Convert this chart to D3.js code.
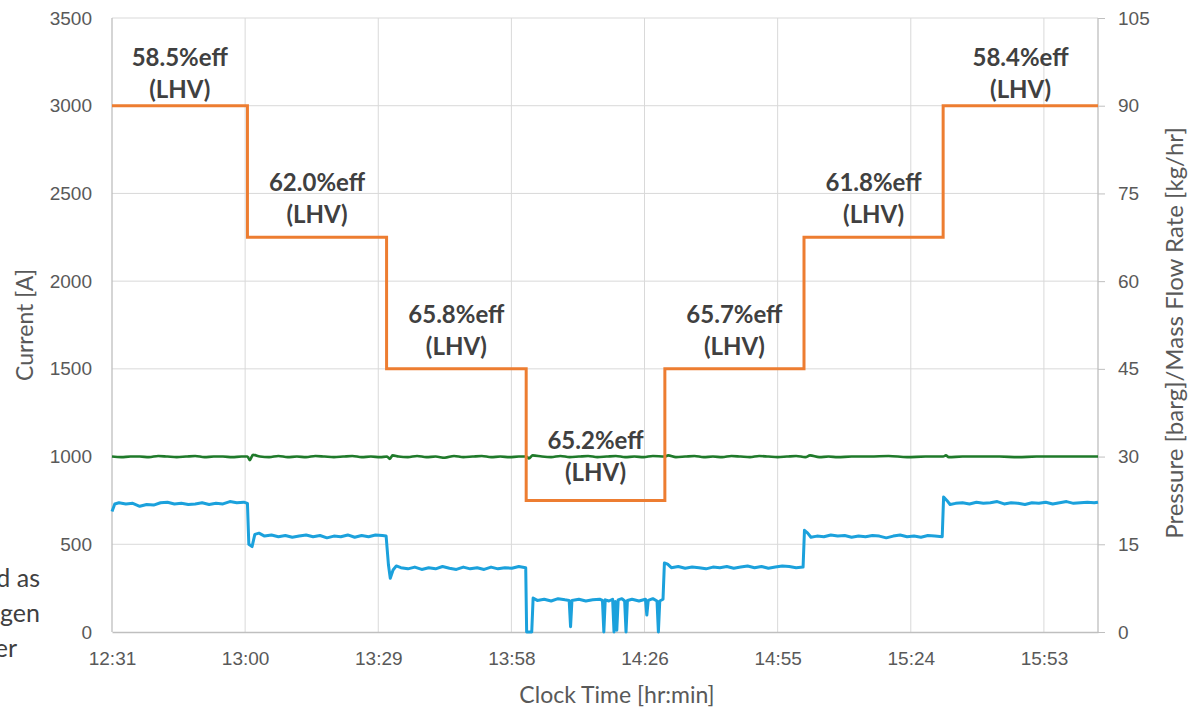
<!DOCTYPE html>
<html>
<head>
<meta charset="utf-8">
<script src="https://cdn.jsdelivr.net/npm/d3@7"></script>
<style>
  body { margin: 0; background: #fff; }
  svg { display: block; }
</style>
</head>
<body>
<div id="chart"></div>
<script>
// ---- data (minutes after 12:31) ----
var xTickLabels = ["12:31", "13:00", "13:29", "13:58", "14:26", "14:55", "15:24", "15:53"];
var xTickStep = 28.8;   // excel major unit 0.02 day
var timeEnd = 213.3;

var leftTicks = [0, 500, 1000, 1500, 2000, 2500, 3000, 3500];
var rightTicks = [0, 15, 30, 45, 60, 75, 90, 105];

// current set points (step after)
var stepTime = [0, 29.3, 59.4, 89.6, 119.6, 149.7, 179.8, 213.3];
var currentA = [3000, 2250, 1500, 750, 1500, 2250, 3000, 3000];

var effLabels = ["58.5%eff", "62.0%eff", "65.8%eff", "65.2%eff", "65.7%eff", "61.8%eff", "58.4%eff"];

// hydrogen mass flow [kg/hr]
var flowTime = [0, 0.6, 1.5, 3, 4.5, 6, 7.5, 9, 10.5, 12, 13.5, 15, 16.5, 18, 19.5, 21, 22.5, 24, 25.5, 27, 28.5, 29.3,
  29.6, 30.3, 30.9, 31.8, 33, 34.5, 36, 37.5, 39, 40.5, 42, 43.5, 45, 46.5, 48, 49.5, 51, 52.5, 54, 55.5, 57, 58.5, 59.3,
  59.8, 60.2, 60.8, 61.5, 62.5, 64, 65.5, 67, 68.5, 70, 71.5, 73, 74.5, 76, 77.5, 79, 80.5, 82, 83.5, 85, 86.5, 88, 89.5,
  89.7, 90.8, 91.1, 92, 93.5, 95, 96.5, 98, 98.9, 99.2, 99.5, 101, 102.5, 104, 105.5, 106.1, 106.4, 106.7, 107.5, 108.3,
  108.6, 108.9, 109.2, 109.5, 110.3, 110.9, 111.2, 111.5, 112.5, 114, 115.4, 115.7, 116, 117, 117.9, 118.2, 118.5, 119.2,
  119.5, 120.2, 121, 122.5, 124, 125.5, 127, 128.5, 130, 131.5, 133, 134.5, 136, 137.5, 139, 140.5, 142, 143.5, 145, 146.5, 148, 149.5,
  149.8, 150.5, 151.2, 152.5, 154, 155.5, 157, 158.5, 160, 161.5, 163, 164.5, 166, 167.5, 169, 170.5, 172, 173.5, 175, 176.5, 178, 179.6,
  179.9, 180.6, 181.3, 182.5, 184, 185.5, 187, 188.5, 190, 191.5, 193, 194.5, 196, 197.5, 199, 200.5, 202, 203.5, 205, 206.5, 208, 209.5, 211, 212.5, 213.3];
var flowRate = [20.6, 21.9, 22.1, 21.9, 22.0, 21.5, 21.8, 21.7, 22.1, 22.2, 21.9, 22.0, 21.8, 21.9, 22.1, 21.8, 22.0, 21.9, 22.3, 22.1, 22.2, 22.0,
  15.0, 14.6, 16.7, 16.9, 16.4, 16.6, 16.3, 16.5, 16.2, 16.4, 16.6, 16.3, 16.5, 16.1, 16.4, 16.3, 16.6, 16.2, 16.5, 16.3, 16.6, 16.5, 16.4,
  11.5, 9.2, 10.6, 11.3, 11.0, 10.8, 11.1, 10.7, 11.0, 10.8, 11.2, 10.9, 10.7, 11.1, 10.8, 11.0, 10.7, 11.1, 10.8, 11.0, 10.9, 11.2, 11.0,
  0, 0, 5.8, 5.4, 5.6, 5.3, 5.7, 5.5, 5.4, 0.9, 5.4, 5.6, 5.3, 5.5, 5.6, 5.4, 0, 5.5, 5.3, 5.6,
  0, 5.2, 0.3, 5.5, 5.7, 5.3, 0, 5.4, 5.6, 5.3, 5.6, 2.9, 5.4, 5.7, 5.3, 0, 5.3, 5.6,
  11.8, 11.6, 11.0, 11.2, 10.9, 11.1, 11.0, 10.8, 11.1, 11.0, 11.2, 10.9, 11.1, 11.3, 11.0, 11.2, 10.9, 11.1, 11.3, 11.2, 11.0, 11.1,
  17.4, 16.9, 16.2, 16.4, 16.3, 16.6, 16.4, 16.5, 16.2, 16.4, 16.3, 16.5, 16.4, 16.1, 16.4, 16.6, 16.3, 16.4, 16.2, 16.5, 16.4, 16.3,
  23.1, 22.5, 21.8, 22.0, 22.1, 21.9, 22.2, 22.0, 22.1, 22.3, 21.9, 22.1, 22.0, 21.8, 22.1, 22.0, 22.2, 21.9, 22.1, 22.3, 22.0, 22.1, 22.2, 22.1, 22.2];

// outlet pressure [barg]
var pressTime = [0, 2, 4, 6, 8, 10, 12, 14, 16, 18, 20, 22, 24, 26, 28, 29.3, 29.8, 30.5, 32, 34, 36, 38, 40, 42, 44, 46, 48, 50,
  52, 54, 56, 58, 59.5, 60.1, 60.7, 62, 64, 66, 68, 70, 72, 74, 76, 78, 80, 82, 84, 86, 88, 89.6, 90.2, 91, 93, 95, 97, 99,
  101, 103, 105, 107, 109, 111, 113, 115, 117, 119.6, 120.3, 122, 124, 126, 128, 130, 132, 134, 136, 138, 140, 142, 144, 146,
  148, 150, 151, 153, 155, 157, 160, 164, 168, 172, 176, 179.8, 180.4, 181, 184, 188, 192, 196, 200, 204, 208, 213.3];
var pressure = [30.0, 29.9, 30.0, 30.0, 29.9, 30.1, 30.0, 29.9, 30.0, 30.1, 29.9, 30.0, 30.0, 29.9, 30.0, 30.0, 29.4, 30.3, 30.0, 29.9, 30.1, 29.9, 30.0, 29.9, 30.1, 30.0, 29.9, 30.0,
  30.1, 29.9, 30.0, 29.9, 30.0, 29.6, 30.2, 30.0, 29.9, 30.1, 29.9, 30.0, 29.8, 30.1, 29.9, 30.0, 30.1, 29.9, 30.0, 29.9, 30.0, 30.0, 29.7, 30.2, 30.0, 29.9, 30.1, 29.9,
  30.0, 30.1, 29.9, 30.0, 30.1, 29.9, 30.0, 29.9, 30.1, 30.0, 30.2, 29.9, 30.0, 30.1, 29.9, 30.0, 29.9, 30.1, 30.0, 29.9, 30.1, 30.0, 29.9, 30.0,
  30.1, 29.9, 30.2, 29.9, 30.0, 29.9, 30.0, 30.0, 30.1, 29.9, 30.0, 30.0, 30.2, 29.9, 30.0, 30.0, 30.0, 29.9, 30.0, 30.0, 30.0, 30.0];

// ---- layout ----
var svgWidth = 1190, svgHeight = 711;
var margin = { top: 18, right: 92, bottom: 79, left: 112 };
var chartWidth = svgWidth - margin.left - margin.right;
var chartHeight = svgHeight - margin.top - margin.bottom;

var svg = d3.select("#chart").append("svg")
  .attr("width", svgWidth)
  .attr("height", svgHeight);

var g = svg.append("g")
  .attr("transform", `translate(${margin.left}, ${margin.top})`);

var xScale = d3.scaleLinear().domain([0, timeEnd]).range([0, chartWidth]);
var yLeft = d3.scaleLinear().domain([0, 3500]).range([chartHeight, 0]);
var yRight = d3.scaleLinear().domain([0, 105]).range([chartHeight, 0]);

var xTickVals = xTickLabels.map((d, i) => i * xTickStep);

// gridlines
g.append("g").selectAll("line").data(leftTicks.slice(1)).enter().append("line")
  .attr("x1", 0).attr("x2", chartWidth)
  .attr("y1", d => yLeft(d)).attr("y2", d => yLeft(d))
  .attr("stroke", "#d9d9d9").attr("stroke-width", 1);
g.append("g").selectAll("line").data(xTickVals.slice(1)).enter().append("line")
  .attr("x1", d => xScale(d)).attr("x2", d => xScale(d))
  .attr("y1", 0).attr("y2", chartHeight)
  .attr("stroke", "#d9d9d9").attr("stroke-width", 1);

// axes
var tickFont = "'Liberation Sans', Arial, sans-serif";
var leftAxis = d3.axisLeft(yLeft).tickValues(leftTicks).tickSize(0).tickPadding(20).tickFormat(d3.format("d"));
var rightAxis = d3.axisRight(yRight).tickValues(rightTicks).tickSize(7).tickPadding(13);
var bottomAxis = d3.axisBottom(xScale).tickValues(xTickVals).tickSize(0).tickPadding(20)
  .tickFormat((d, i) => xTickLabels[i]);

var yAxisG = g.append("g").call(leftAxis);
var y2AxisG = g.append("g").attr("transform", `translate(${chartWidth},0)`).call(rightAxis);
var xAxisG = g.append("g").attr("transform", `translate(0,${chartHeight})`).call(bottomAxis);

[yAxisG, y2AxisG, xAxisG].forEach(function(ax) {
  ax.select(".domain").attr("stroke", "#bfbfbf").attr("stroke-width", 1.3);
  ax.selectAll(".tick line").attr("stroke", "#bfbfbf");
  ax.selectAll("text").attr("fill", "#595959").style("font-family", tickFont).style("font-size", "19px");
});
y2AxisG.select(".domain").attr("d", `M0,0V${chartHeight}`);
yAxisG.select(".domain").attr("d", `M0,0V${chartHeight}`);

// lines
var flowData = flowTime.map((t, i) => ({ t: t, v: flowRate[i] }));
var pressData = pressTime.map((t, i) => ({ t: t, v: pressure[i] }));
var currData = stepTime.map((t, i) => ({ t: t, v: currentA[i] }));

g.append("path").datum(pressData)
  .attr("fill", "none").attr("stroke", "#1f7a2a").attr("stroke-width", 2.6)
  .attr("stroke-linejoin", "round")
  .attr("d", d3.line().x(d => xScale(d.t)).y(d => yRight(d.v)).curve(d3.curveMonotoneX));

g.append("path").datum(flowData)
  .attr("fill", "none").attr("stroke", "#1ba1dc").attr("stroke-width", 3)
  .attr("stroke-linejoin", "round")
  .attr("d", d3.line().x(d => xScale(d.t)).y(d => yRight(d.v)));

g.append("path").datum(currData)
  .attr("fill", "none").attr("stroke", "#ed7d31").attr("stroke-width", 3)
  .attr("d", d3.line().x(d => xScale(d.t)).y(d => yLeft(d.v)).curve(d3.curveStepAfter));

// efficiency annotations over each step
var labelFont = "Lato, 'Open Sans', sans-serif";
var ann = g.append("g");
effLabels.forEach(function(lbl, i) {
  var mid = (stepTime[i] + stepTime[i + 1]) / 2;
  var lvl = currentA[i];
  var lift = lvl >= 3000 ? 16 : (lvl <= 750 ? 27 : 22);
  var cy = yLeft(lvl) - lift;
  var t = ann.append("text")
    .attr("x", xScale(mid))
    .attr("text-anchor", "middle")
    .attr("fill", "#404040")
    .style("font-family", labelFont).style("font-weight", "bold").style("font-size", "24px");
  t.append("tspan").attr("x", xScale(mid)).attr("y", cy - 32 + 8).text(lbl);
  t.append("tspan").attr("x", xScale(mid)).attr("y", cy + 8).text("(LHV)");
});

// axis titles
var titleFont = "Lato, 'Open Sans', sans-serif";
svg.append("text")
  .attr("transform", `translate(33, ${margin.top + chartHeight / 2}) rotate(-90)`)
  .attr("text-anchor", "middle").attr("fill", "#595959")
  .style("font-family", titleFont).style("font-size", "23px")
  .text("Current [A]");
svg.append("text")
  .attr("transform", `translate(1183, ${margin.top + chartHeight / 2 + 8}) rotate(-90)`)
  .attr("text-anchor", "middle").attr("fill", "#595959")
  .style("font-family", titleFont).style("font-size", "24px")
  .text("Pressure [barg]/Mass Flow Rate [kg/hr]");
svg.append("text")
  .attr("x", margin.left + chartWidth / 2 + 12).attr("y", 703)
  .attr("text-anchor", "middle").attr("fill", "#595959")
  .style("font-family", titleFont).style("font-size", "23px")
  .text("Clock Time [hr:min]");

// clipped slide text at left edge
var sideText = ["d as", "gen", "er"];
var sideEnds = [40, 40, 17];
sideText.forEach(function(s, i) {
  svg.append("text")
    .attr("x", sideEnds[i]).attr("y", 587 + i * 35)
    .attr("text-anchor", "end").attr("fill", "#404040")
    .style("font-family", titleFont).style("font-size", "25px")
    .text(s);
});
</script>
</body>
</html>
